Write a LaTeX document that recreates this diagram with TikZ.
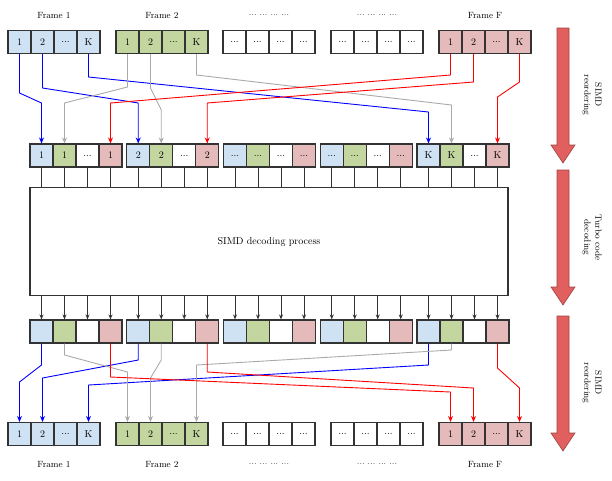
\documentclass[tikz,border=0pt]{standalone}
\usetikzlibrary{arrows.meta}
\definecolor{cblue}{RGB}{207,226,243}
\definecolor{cgreen}{RGB}{196,214,160}
\definecolor{cpink}{RGB}{228,186,186}
\definecolor{cwhite}{RGB}{255,255,255}
\definecolor{bigred}{RGB}{226,95,95}
\definecolor{lgray}{RGB}{170,170,170}
\tikzset{
    x=1pt, y=-1pt,
    cell/.style={draw=black!80, line width=1.1pt, minimum width=23pt, minimum height=23pt, inner sep=0pt},
    tick/.style={draw=black!80, line width=0.9pt},
    link/.style={line width=0.9pt, -{Stealth[length=6pt,width=5pt]}},
    big/.style={draw=bigred!70!black, fill=bigred, line width=0.6pt},
    side/.style={rotate=-90, align=center, font=\small},
}
\newcommand{\dd}{...}
% connector: colour, source, bend heights, target
\newcommand{\route}[5]{\draw[link, #1] (#2.south) -- (#2.south |- 0,#3) -- (#5.north |- 0,#4) -- (#5.north);}
% stage arrow: centre x, top, bottom
\newcommand{\stage}[3]{\draw[big] (#1-6,#2) -- (#1+6,#2) -- (#1+6,#3-18) -- (#1+12,#3-18) -- (#1,#3) -- (#1-12,#3-18) -- (#1-6,#3-18) -- cycle;}
\begin{document}
\begin{tikzpicture}
\useasboundingbox (0,0) rectangle (612,480);
% frames at top and bottom
\foreach \g/\gx/\col/\lab in {1/8/cblue/Frame 1, 2/116/cgreen/Frame 2, 3/223/cwhite/{\dd\ \dd\ \dd\ \dd}, 4/331/cwhite/{\dd\ \dd\ \dd\ \dd}, 5/439/cpink/Frame F} {
    \foreach \i/\t in {1/1, 2/2, 3/\dd, 4/K} {
        \ifnum\g=3 \def\t{\dd}\fi
        \ifnum\g=4 \def\t{\dd}\fi
        \node[cell, fill=\col] (t\g-\i) at (\gx+11.5+23*\i-23, 42) {\t};
        \node[cell, fill=\col] (b\g-\i) at (\gx+11.5+23*\i-23, 434) {\t};
    }
    \node[font=\small] (tl\g) at (\gx+46, 15) {\lab};
    \node[font=\small] (bl\g) at (\gx+46, 464) {\lab};
}
% decoding box
\node[draw=black!80, line width=1.2pt, minimum width=478pt, minimum height=108pt, inner sep=0pt] (dec) at (269, 241.5) {SIMD decoding process};
% interleaved rows
\foreach \g/\gx/\t in {1/30/1, 2/126.75/2, 3/223.5/\dd, 4/320.25/\dd, 5/417/K} {
    \foreach \i/\col in {1/cblue, 2/cgreen, 3/cwhite, 4/cpink} {
        \ifnum\i=3 \def\s{\dd}\else \let\s\t \fi
        \node[cell, fill=\col] (m\g-\i) at (\gx+11.5+23*\i-23, 155.5) {\s};
        \node[cell, fill=\col] (r\g-\i) at (\gx+11.5+23*\i-23, 331.5) {};
        \draw[tick] (m\g-\i.south) -- (m\g-\i.south |- dec.north);
        \draw[tick, -{Stealth[length=5pt,width=4pt]}] (r\g-\i.north |- dec.south) -- (r\g-\i.north);
    }
}
% reordering before decoding
\route{blue}{t1-1}{93}{103}{m1-1}
\route{blue}{t1-2}{88}{103}{m2-1}
\route{blue}{t1-4}{77}{112}{m5-1}
\route{lgray}{t2-1}{87}{103}{m1-2}
\route{lgray}{t2-2}{88}{110}{m2-2}
\route{lgray}{t2-4}{75}{105}{m5-2}
\route{red}{t5-1}{75}{103}{m1-4}
\route{red}{t5-2}{82}{103}{m2-4}
\route{red}{t5-4}{82}{97}{m5-4}
% reordering after decoding
\route{blue}{r1-1}{365}{382}{b1-1}
\route{blue}{r2-1}{360}{378}{b1-2}
\route{blue}{r5-1}{365}{385}{b1-4}
\route{lgray}{r1-2}{355}{372}{b2-1}
\route{lgray}{r2-2}{360}{378}{b2-2}
\route{lgray}{r5-2}{350}{365}{b2-4}
\route{red}{r1-4}{377}{392}{b5-1}
\route{red}{r2-4}{372}{388}{b5-2}
\route{red}{r5-4}{368}{388}{b5-4}
% stages on the right
\stage{563}{28}{163}
\stage{563}{170}{305}
\stage{563}{316}{451}
\node[side] (l1) at (592, 95) {SIMD\\reordering};
\node[side] (l2) at (592, 237.5) {Turbo code\\decoding};
\node[side] (l3) at (592, 383) {SIMD\\reordering};
\end{tikzpicture}
\end{document}
